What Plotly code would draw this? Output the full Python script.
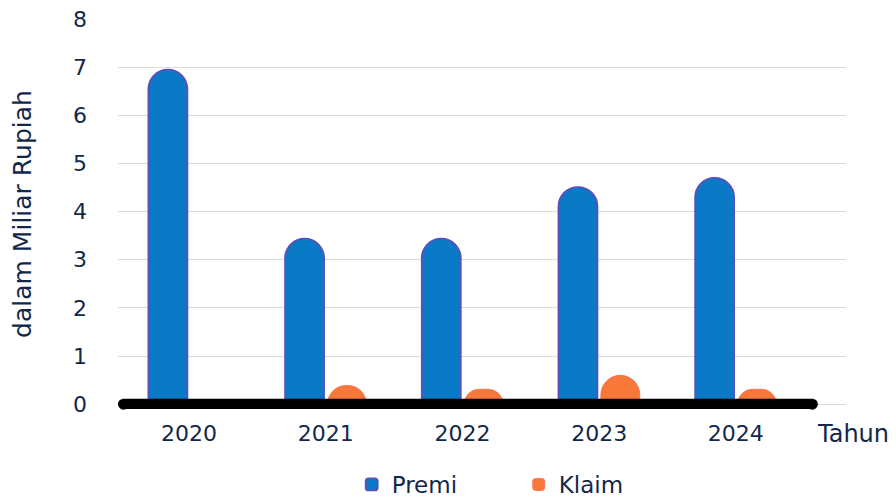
import plotly.graph_objects as go

years = ["2020", "2021", "2022", "2023", "2024"]
premi = [6.95, 3.44, 3.44, 4.51, 4.70]
klaim = [None, 0.39, 0.31, 0.60, 0.31]
y_ticks = [0, 1, 2, 3, 4, 5, 6, 7, 8]

x_pos = list(range(len(years)))
TEXT = "#12284a"
FONT = "DejaVu Sans"

# layout constants (styles / positions, not data)
BAR_W = 0.285                    # bar width in category units
GAP = 0.155                      # centre offset of each bar from its category

fig = go.Figure()
fig.add_trace(go.Bar(
    x=x_pos, y=premi, name="Premi",
    width=BAR_W, offset=-GAP - BAR_W / 2,
    marker=dict(color="#0a7ac6", cornerradius="50%",
                line=dict(color="#5a4fc0", width=1.8)),
    hoverinfo="skip",
))
fig.add_trace(go.Bar(
    x=x_pos, y=klaim, name="Klaim",
    width=BAR_W, offset=GAP - BAR_W / 2,
    marker=dict(color="#f8783a", cornerradius="50%",
                line=dict(color="#fb6a4a", width=0.8)),
    hoverinfo="skip",
))
# thick black baseline along the zero value
fig.add_trace(go.Scatter(
    x=[-0.48, 4.56], y=[0, 0], mode="lines+markers",
    line=dict(color="black", width=11),
    marker=dict(color="black", size=11),
    cliponaxis=False, showlegend=False, hoverinfo="skip",
))

fig.update_layout(
    width=896, height=500,
    margin=dict(l=118, r=50, t=19, b=91, autoexpand=False),
    paper_bgcolor="white", plot_bgcolor="white",
    barmode="overlay",
    font=dict(family=FONT, size=22, color=TEXT),
    showlegend=True,
    legend=dict(orientation="h", xref="paper", x=0.321, xanchor="left",
                yref="container", y=0.074, yanchor="top",
                entrywidth=122, entrywidthmode="pixels",
                font=dict(size=23, color=TEXT)),
    xaxis=dict(range=[-0.52, 4.806], tickvals=x_pos, ticktext=years,
               showgrid=False, zeroline=False, showline=False,
               ticks="", ticklabelstandoff=9, fixedrange=True,
               automargin=False, tickfont=dict(size=22)),
    yaxis=dict(range=[-0.1, 8], tickvals=y_ticks, showgrid=True,
               gridcolor="#dcdcdc", gridwidth=1, zeroline=False,
               showline=False, ticks="", ticklabelstandoff=30,
               tickfont=dict(size=22),
               title=dict(text="dalam Miliar Rupiah", standoff=34,
                          font=dict(size=25, color=TEXT)),
               automargin=False),
    annotations=[dict(text="Tahun", xref="paper", yref="paper",
                      x=0.957, y=-0.064, xanchor="left", yanchor="middle",
                      showarrow=False, font=dict(size=24, color=TEXT))],
)

fig.write_html("out.html")
